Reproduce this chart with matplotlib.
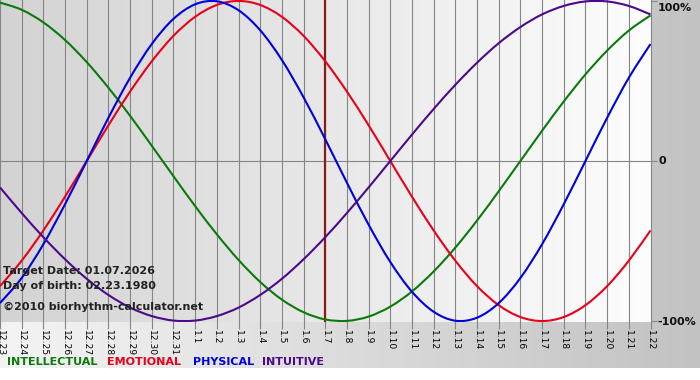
#!/usr/bin/env python3
import numpy as np
import matplotlib
matplotlib.use("Agg")
import matplotlib.pyplot as plt
from matplotlib.colors import LinearSegmentedColormap
from matplotlib.path import Path
from matplotlib.patches import PathPatch

# days shown on the chart (12.23 .. 1.22)
days = ["12.23", "12.24", "12.25", "12.26", "12.27", "12.28", "12.29", "12.30", "12.31",
        "1.1", "1.2", "1.3", "1.4", "1.5", "1.6", "1.7", "1.8", "1.9", "1.10", "1.11",
        "1.12", "1.13", "1.14", "1.15", "1.16", "1.17", "1.18", "1.19", "1.20", "1.21", "1.22"]

# curve values per day (-1 .. 1)
physical = [-0.888, -0.731, -0.520, -0.270, 0.0, 0.270, 0.520, 0.731, 0.888, 0.979, 0.998,
            0.942, 0.817, 0.631, 0.398, 0.136, -0.136, -0.398, -0.631, -0.817, -0.942,
            -0.998, -0.979, -0.888, -0.731, -0.520, -0.270, 0.0, 0.270, 0.520, 0.731]
emotional = [-0.782, -0.623, -0.434, -0.223, 0.0, 0.223, 0.434, 0.623, 0.782, 0.901, 0.975,
             1.0, 0.975, 0.901, 0.782, 0.623, 0.434, 0.223, 0.0, -0.223, -0.434, -0.623,
             -0.782, -0.901, -0.975, -1.0, -0.975, -0.901, -0.782, -0.623, -0.434]
intellectual = [0.990, 0.945, 0.866, 0.756, 0.618, 0.458, 0.282, 0.095, -0.095, -0.282,
                -0.458, -0.618, -0.756, -0.866, -0.945, -0.990, -0.999, -0.972, -0.910,
                -0.815, -0.690, -0.541, -0.372, -0.189, 0.0, 0.189, 0.372, 0.541, 0.690,
                0.815, 0.910]
intuitive = [-0.165, -0.325, -0.476, -0.614, -0.736, -0.837, -0.916, -0.969, -0.997, -0.997,
             -0.969, -0.916, -0.837, -0.736, -0.614, -0.476, -0.325, -0.165, 0.0, 0.165,
             0.325, 0.476, 0.614, 0.736, 0.837, 0.916, 0.969, 0.997, 0.997, 0.969, 0.916]

target_day = "1.7"
legend_names = ["INTELLECTUAL", "EMOTIONAL", "PHYSICAL", "INTUITIVE"]
colours = {"INTELLECTUAL": "#0a7a0a", "EMOTIONAL": "#e8001a",
           "PHYSICAL": "#0000dd", "INTUITIVE": "#4b0a8a"}


def smooth_path(xs, ys):
    # smooth (catmull-rom style) bezier path through the daily points
    pts = np.column_stack([xs, ys]).astype(float)
    verts = [pts[0]]
    codes = [Path.MOVETO]
    n = len(pts)
    for i in range(n - 1):
        p0 = pts[max(i - 1, 0)]
        p1 = pts[i]
        p2 = pts[i + 1]
        p3 = pts[min(i + 2, n - 1)]
        verts += [p1 + (p2 - p0) / 6, p2 - (p3 - p1) / 6, p2]
        codes += [Path.CURVE4] * 3
    return Path(verts, codes)


W, H = 700, 380
fig = plt.figure(figsize=(W / 100, H / 100), dpi=100)
fig.patch.set_facecolor("white")

# outer grey gradient (light left -> darker right)
bg = fig.add_axes([0, 12 / H, 1, 368 / H])
bg.imshow(np.linspace(0, 1, 256)[None, :], aspect="auto", extent=[0, 1, 0, 1],
          cmap=LinearSegmentedColormap.from_list("outer", ["#f4f4f4", "#c2c2c2"]))
bg.axis("off")

# main plot area
ax = fig.add_axes([0, (H - 322) / H, 650.5 / W, 322 / H])
x = np.arange(len(days))
ylo, yhi = -1.006, 1.006
ax.imshow(np.linspace(0, 1, 256)[None, :], aspect="auto", extent=[0, 30, ylo, yhi],
          cmap=LinearSegmentedColormap.from_list("inner", ["#d3d3d3", "#fdfdfd"]), zorder=0)
ax.set_xlim(0, 30)
ax.set_ylim(ylo, yhi)

for xi in x:
    ax.axvline(xi, color="#858585", lw=0.8, zorder=1, clip_on=False)
ax.axhline(0, color="#858585", lw=0.8, zorder=1)

ax.axvline(days.index(target_day), color="#8b1a1a", lw=1.6, zorder=2)

series = {"INTELLECTUAL": intellectual, "EMOTIONAL": emotional,
          "PHYSICAL": physical, "INTUITIVE": intuitive}
for name in ["INTELLECTUAL", "EMOTIONAL", "PHYSICAL", "INTUITIVE"]:
    ax.add_patch(PathPatch(smooth_path(x, series[name]), facecolor="none",
                           edgecolor=colours[name], lw=1.5, zorder=3))

for s in ax.spines.values():
    s.set_visible(False)

ax.set_xticks(x)
ax.set_xticklabels(days, rotation=-90, fontsize=6.6, color="black")
ax.tick_params(axis="x", direction="out", length=5, color="#858585", pad=1)
ax.yaxis.tick_right()
ax.set_yticks([-1, 0, 1])
ax.set_yticklabels([])
ax.tick_params(axis="y", direction="out", length=4, color="#858585")

font = dict(fontsize=8, fontweight="bold", family="DejaVu Sans")
ax.annotate("100%", (1, 1), xycoords="axes fraction", xytext=(5.5, -6),
            textcoords="offset points", va="center", ha="left", color="#111111", **font)
ax.annotate("0", (1, 0.5), xycoords="axes fraction", xytext=(5.5, 0),
            textcoords="offset points", va="center", ha="left", color="#111111", **font)
ax.annotate("-100%", (1, 0), xycoords="axes fraction", xytext=(5, 0),
            textcoords="offset points", va="center", ha="left", color="#111111", **font)

# info text in the lower left corner
info = ["Target Date: 01.07.2026", "Day of birth: 02.23.1980",
        "\u00a92010 biorhythm-calculator.net"]
info_y = [271, 286, 307]
for txt, yy in zip(info, info_y):
    fig.text(3 / W, 1 - yy / H, txt, va="center", ha="left", color="#222222", **font)

# coloured legend words
leg_x = [7, 107, 193, 262]
for name, lx in zip(legend_names, leg_x):
    fig.text(lx / W, 1 - 362 / H, name, va="center", ha="left",
             color=colours[name], **font)

fig.savefig("out.png", dpi=100)
